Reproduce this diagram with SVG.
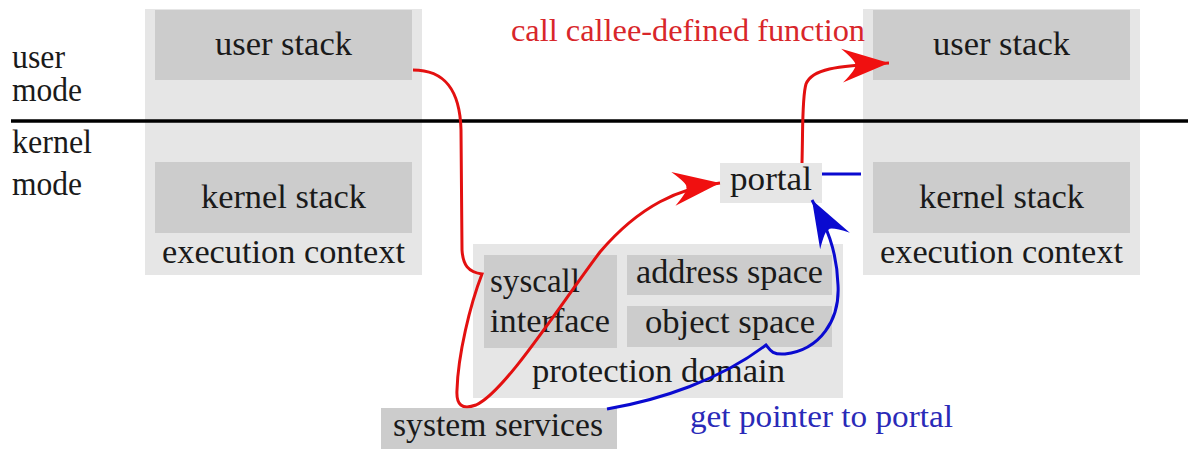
<svg xmlns="http://www.w3.org/2000/svg" width="1188" height="449" viewBox="0 0 1188 449">
<style>
.outer{fill:#e6e6e6}
.inner{fill:#cccccc}
.t{font-family:"Liberation Serif","DejaVu Serif",serif;font-size:33px;fill:#1a1a1a}
.tr{font-family:"Liberation Serif","DejaVu Serif",serif;font-size:32px;fill:#d8262a}
.tb{font-family:"Liberation Serif","DejaVu Serif",serif;font-size:32px;fill:#2a2ab8}
.red{fill:none;stroke:#e31010;stroke-width:3}
.blue{fill:none;stroke:#0a0ad0;stroke-width:3}
</style>
<defs>
<marker id="ar" viewBox="-50 -20 52 40" refX="0" refY="0" markerWidth="52" markerHeight="40" markerUnits="userSpaceOnUse" orient="auto">
<path d="M0,0 L-47,-17 Q-32,-3 -34,0 Q-32,3 -47,17 Z" fill="#f01010"/>
</marker>
<marker id="ab" viewBox="-50 -20 52 40" refX="0" refY="0" markerWidth="52" markerHeight="40" markerUnits="userSpaceOnUse" orient="auto">
<path d="M0,0 L-47,-17 Q-32,-3 -34,0 Q-32,3 -47,17 Z" fill="#0a0ad0"/>
</marker>
</defs>
<rect width="1188" height="449" fill="#ffffff"/>

<g id="mode-labels">
<text class="t" x="12" y="68" textLength="53" lengthAdjust="spacingAndGlyphs">user</text>
<text class="t" x="12" y="101" textLength="70" lengthAdjust="spacingAndGlyphs">mode</text>
<text class="t" x="12" y="153" textLength="80" lengthAdjust="spacingAndGlyphs">kernel</text>
<text class="t" x="12" y="195" textLength="70" lengthAdjust="spacingAndGlyphs">mode</text>
</g>

<g id="exec-left">
<rect class="outer" x="145" y="9" width="277" height="266"/>
<rect class="inner" x="155" y="10" width="257" height="70"/>
<rect class="inner" x="155" y="162" width="257" height="71"/>
<text class="t" x="215" y="55" textLength="137" lengthAdjust="spacingAndGlyphs">user stack</text>
<text class="t" x="201" y="208" textLength="165" lengthAdjust="spacingAndGlyphs">kernel stack</text>
<text class="t" x="162" y="263" textLength="243" lengthAdjust="spacingAndGlyphs">execution context</text>
</g>

<g id="exec-right">
<rect class="outer" x="863" y="9" width="277" height="266"/>
<rect class="inner" x="873" y="10" width="257" height="70"/>
<rect class="inner" x="873" y="162" width="257" height="71"/>
<text class="t" x="933" y="55" textLength="137" lengthAdjust="spacingAndGlyphs">user stack</text>
<text class="t" x="919" y="208" textLength="165" lengthAdjust="spacingAndGlyphs">kernel stack</text>
<text class="t" x="880" y="263" textLength="243" lengthAdjust="spacingAndGlyphs">execution context</text>
</g>

<g id="protection-domain">
<rect class="outer" x="473" y="244" width="370" height="154"/>
<rect class="inner" x="484" y="255" width="133" height="93"/>
<rect class="inner" x="627" y="255" width="205" height="40"/>
<rect class="inner" x="627" y="306" width="205" height="41"/>
<text class="t" x="490" y="292" textLength="90" lengthAdjust="spacingAndGlyphs">syscall</text>
<text class="t" x="490" y="332" textLength="120" lengthAdjust="spacingAndGlyphs">interface</text>
<text class="t" x="636" y="283" textLength="187" lengthAdjust="spacingAndGlyphs">address space</text>
<text class="t" x="645" y="333" textLength="170" lengthAdjust="spacingAndGlyphs">object space</text>
<text class="t" x="532" y="382" textLength="253" lengthAdjust="spacingAndGlyphs">protection domain</text>
</g>

<g id="system-services">
<rect class="inner" x="381" y="408" width="236" height="41"/>
<text class="t" x="393" y="436" textLength="210" lengthAdjust="spacingAndGlyphs">system services</text>
</g>

<g id="portal">
<rect class="outer" x="720" y="163" width="102" height="40"/>
<text class="t" x="730" y="190" textLength="82" lengthAdjust="spacingAndGlyphs">portal</text>
</g>

<line x1="11" y1="121" x2="1188" y2="121" stroke="#000" stroke-width="3.5"/>

<g id="connectors">
<path class="red" d="M413,70 C445,70 460,90 461,130 L462,250 C463,265 468,272 482,274 C470,305 458,355 457,390 C456,405 462,410 476,405 C505,392 560,305 600,252 C640,205 680,188 720,183" marker-end="url(#ar)"/>
<path class="red" d="M802,163 C803,125 802,97 806,84 C812,69 835,66 889,63" marker-end="url(#ar)"/>
<path class="blue" d="M607,409 C660,400 720,380 766,345 C770,350 772,355 785,354 C820,350 840,320 838,285 C837,250 826,225 812,200" marker-end="url(#ab)"/>
<path class="blue" d="M822,174 L861,174"/>
</g>

<g id="labels">
<text class="tr" x="511" y="41" textLength="354" lengthAdjust="spacingAndGlyphs">call callee-defined function</text>
<text class="tb" x="690" y="427" textLength="263" lengthAdjust="spacingAndGlyphs">get pointer to portal</text>
</g>
</svg>
